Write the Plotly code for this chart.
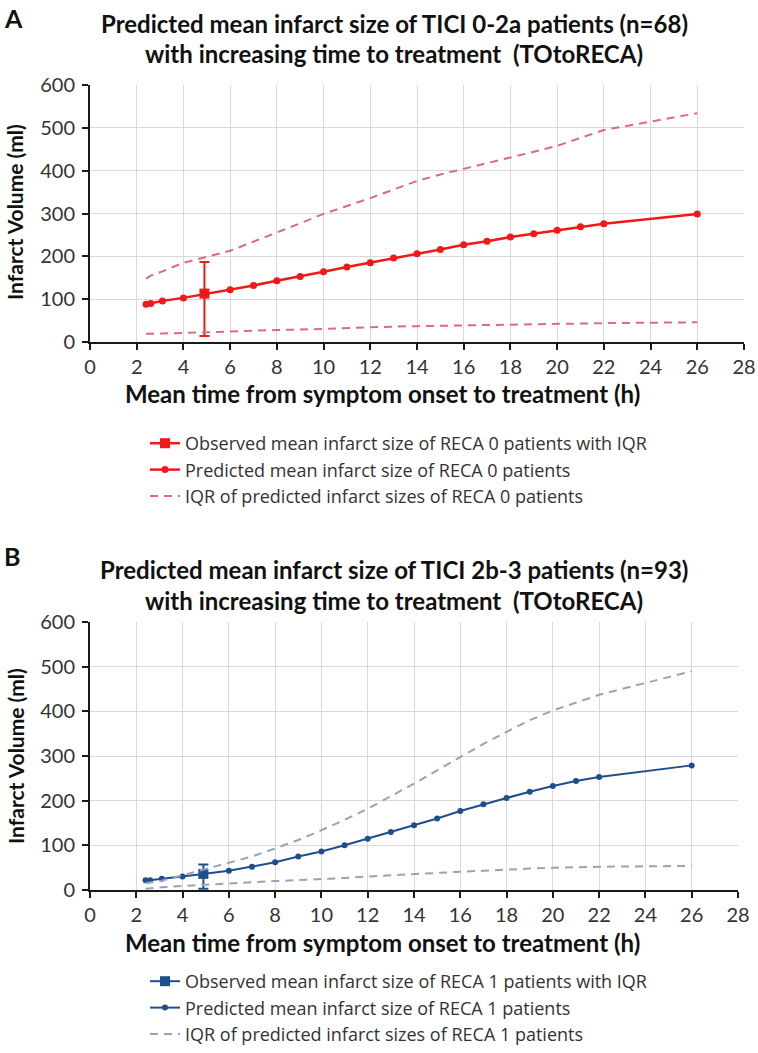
import plotly.graph_objects as go

# time points (h) of the predicted curves
t_pred = [2.4, 2.6, 3.1, 4, 6, 7, 8, 9, 10, 11, 12, 13, 14, 15, 16, 17, 18, 19, 20, 21, 22, 26]

# panel A: TICI 0-2a / RECA 0
a_pred = [88, 90, 96, 103, 122, 132, 143, 153, 164, 175, 185, 196, 206, 216, 227, 235, 245, 253, 261, 269, 276, 299]
a_iqr_hi = [148, 155, 165, 185, 213, 234, 256, 277, 299, 317, 336, 356, 376, 391, 404, 418, 431, 444, 458, 477, 495, 534]
a_iqr_lo = [19, 19, 20, 21, 25, 26, 28, 29, 31, 33, 35, 36, 37, 38, 39, 40, 41, 42, 42, 43, 44, 46]
a_obs_t = [4.9]
a_obs = [113]
a_obs_up = [74]
a_obs_dn = [99]

# panel B: TICI 2b-3 / RECA 1
b_pred = [22, 22, 25, 30, 43, 52, 62, 75, 86, 100, 115, 130, 145, 160, 177, 192, 206, 220, 233, 244, 253, 279]
b_iqr_hi = [15, 17, 21, 33, 60, 75, 93, 112, 134, 157, 182, 210, 238, 268, 298, 327, 354, 380, 402, 420, 437, 490]
b_iqr_lo = [3, 4, 6, 9, 15, 17, 20, 22, 24, 27, 30, 33, 36, 38, 41, 43, 46, 48, 50, 51, 52, 54]
b_obs_t = [4.9]
b_obs = [36]
b_obs_up = [21]
b_obs_dn = [33]

FONT = "Lato"
RED = "#f01818"
RED_D = "#e0697a"
BLUE = "#1f4e8c"
BLUE_D = "#95a3bd"
W, H = 758, 1053

def fx(p):
    return p / W

def fy(p):
    return 1 - p / H

fig = go.Figure()

def add_panel(xa, ya, leg, obs_t, obs, up, dn, pred, hi, lo, col, dcol, reca, sq, dot, lw):
    fig.add_trace(go.Scatter(x=obs_t, y=obs, mode="lines+markers", xaxis=xa, yaxis=ya, legend=leg,
                             name=f"Observed mean infarct size of RECA {reca} patients with IQR",
                             line=dict(color=col, width=lw),
                             marker=dict(symbol="square", size=sq, color=col),
                             error_y=dict(type="data", array=up, arrayminus=dn, color=col,
                                          thickness=2, width=5)))
    fig.add_trace(go.Scatter(x=t_pred, y=pred, mode="lines+markers", xaxis=xa, yaxis=ya, legend=leg,
                             name=f"Predicted mean infarct size of RECA {reca} patients",
                             line=dict(color=col, width=lw),
                             marker=dict(symbol="circle", size=dot, color=col)))
    fig.add_trace(go.Scatter(x=t_pred, y=hi, mode="lines", xaxis=xa, yaxis=ya, legend=leg,
                             name=f"IQR of predicted infarct sizes of RECA {reca} patients",
                             line=dict(color=dcol, width=2, dash="8px,6px")))
    fig.add_trace(go.Scatter(x=t_pred, y=lo, mode="lines", xaxis=xa, yaxis=ya, legend=leg,
                             showlegend=False,
                             line=dict(color=dcol, width=2, dash="8px,6px")))

add_panel("x", "y", "legend", a_obs_t, a_obs, a_obs_up, a_obs_dn, a_pred, a_iqr_hi, a_iqr_lo,
          RED, RED_D, 0, 10, 7, 2.5)
add_panel("x2", "y2", "legend2", b_obs_t, b_obs, b_obs_up, b_obs_dn, b_pred, b_iqr_hi, b_iqr_lo,
          BLUE, BLUE_D, 1, 10, 6, 2)

xax = dict(range=[0, 28], dtick=2, tick0=0, showgrid=True, gridcolor="#d9d9d9", gridwidth=1,
           showline=True, linecolor="#1a1a1a", linewidth=2, ticks="outside", ticklen=6,
           tickwidth=2, tickcolor="#1a1a1a", zeroline=False, automargin=False,
           tickfont=dict(family=FONT, size=20, color="#333333"))
yax = dict(range=[0, 600], dtick=100, showgrid=True, gridcolor="#d9d9d9", gridwidth=1,
           showline=True, linecolor="#1a1a1a", linewidth=2, ticks="outside", ticklen=6,
           tickwidth=2, tickcolor="#1a1a1a", zeroline=False, ticklabelstandoff=3, automargin=False,
           tickfont=dict(family=FONT, size=20, color="#333333"))

legfont = dict(family="Open Sans", size=18, color="#333333")

def txt(text, x, y, size, angle=0, xanchor="center"):
    return dict(text=text, x=fx(x), y=fy(y), xref="paper", yref="paper", showarrow=False,
                xanchor=xanchor, yanchor="middle", textangle=angle,
                font=dict(family=FONT, size=size, color="#111111"))

xtitle = "<b>Mean time from symptom onset to treatment (h)</b>"
ytitle = "<b>Infarct Volume (ml)</b>"

fig.update_layout(
    width=W, height=H, margin=dict(l=0, r=0, t=0, b=0, autoexpand=False),
    paper_bgcolor="white", plot_bgcolor="white",
    font=dict(family=FONT, color="#333333"),
    xaxis=dict(xax, domain=[fx(90), fx(744)], anchor="y"),
    yaxis=dict(yax, domain=[fy(342), fy(85)], anchor="x"),
    xaxis2=dict(xax, domain=[fx(90), fx(738)], anchor="y2"),
    yaxis2=dict(yax, domain=[fy(890), fy(622)], anchor="x2"),
    legend=dict(x=fx(145), y=fy(425), xanchor="left", yanchor="top", tracegroupgap=0,
                font=legfont, itemwidth=30),
    legend2=dict(x=fx(145), y=fy(963), xanchor="left", yanchor="top", tracegroupgap=0,
                 font=legfont, itemwidth=30),
    annotations=[
        txt("<b>A</b>", 2, 18, 25, xanchor="left"),
        txt("<b>Predicted mean infarct size of TICI 0-2a patients (n=68)</b>", 394, 24, 24),
        txt("<b>with increasing time to treatment  (TOtoRECA)</b>", 394, 53, 24),
        txt(ytitle, 15, 212, 21, angle=-90),
        txt(xtitle, 382, 394, 24),
        txt("<b>B</b>", 2, 556, 25, xanchor="left"),
        txt("<b>Predicted mean infarct size of TICI 2b-3 patients (n=93)</b>", 394, 569, 24),
        txt("<b>with increasing time to treatment  (TOtoRECA)</b>", 394, 600, 24),
        txt(ytitle, 15, 756, 21, angle=-90),
        txt(xtitle, 382, 942, 24),
    ],
)

# drop the default page margin so the figure fills the window exactly
fig.write_html("out.html", config={"displayModeBar": False},
               post_script="document.body.style.margin='0';"
                           "document.documentElement.style.overflow='hidden';")
